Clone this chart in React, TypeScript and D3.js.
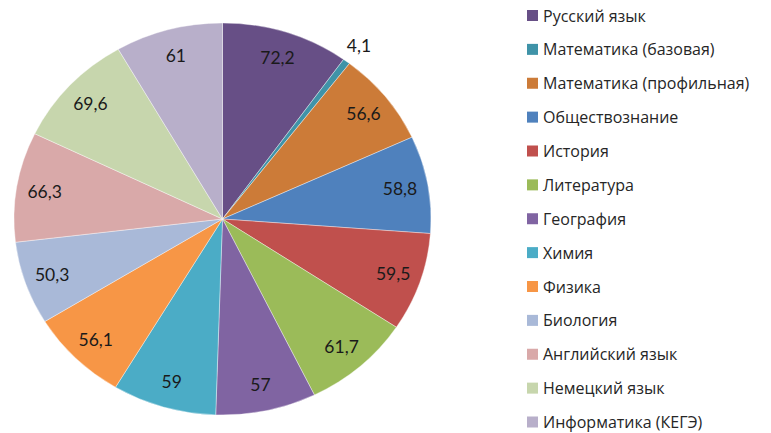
import { useEffect, useRef } from 'react';
import * as d3 from 'd3';

const subjects = [
  'Русский язык',
  'Математика (базовая)',
  'Математика (профильная)',
  'Обществознание',
  'История',
  'Литература',
  'География',
  'Химия',
  'Физика',
  'Биология',
  'Английский язык',
  'Немецкий язык',
  'Информатика (КЕГЭ)',
];

const scores = [72.2, 4.1, 56.6, 58.8, 59.5, 61.7, 57, 59, 56.1, 50.3, 66.3, 69.6, 61];

const colors = [
  '#674F86', '#3F93A8', '#CC7B38', '#4F81BD', '#C0504D', '#9BBB59', '#8064A2',
  '#4BACC6', '#F79646', '#A9B9D8', '#D9A9A9', '#C7D6AD', '#B8AFCA',
];

type Slice = { name: string; value: number; color: string };

export default function App() {
  const svgRef = useRef<SVGSVGElement | null>(null);

  useEffect(() => {
    if (!svgRef.current) return;
    const svg = d3.select(svgRef.current);
    svg.selectAll('*').remove();

    const W = 771;
    const H = 433;
    const cx = 222.5;
    const cy = 219;
    const rx = 208.5;
    const ry = 196;
    const k = ry / rx;

    const data: Slice[] = subjects.map((name, i) => ({ name, value: scores[i], color: colors[i] }));

    const pie = d3.pie<Slice>().value((d) => d.value).sort(null);
    const arcs = pie(data);
    const arc = d3.arc<d3.PieArcDatum<Slice>>().innerRadius(0).outerRadius(rx);

    svg.attr('width', W).attr('height', H).style('display', 'block').style('background', '#fff');

    // Pie (slightly squashed vertically, like the original)
    const g = svg.append('g').attr('transform', `translate(${cx},${cy}) scale(1,${k})`);
    g.selectAll('path')
      .data(arcs)
      .enter()
      .append('path')
      .attr('d', arc)
      .attr('fill', (d) => d.data.color)
      .attr('stroke', '#fff')
      .attr('stroke-width', 0.4);

    // Data labels
    const fmt = (v: number) => String(v).replace('.', ',');
    const labelR = (d: d3.PieArcDatum<Slice>) => (d.data.value < 10 ? rx * 1.1 : rx * 0.865);
    svg.append('g')
      .selectAll('text')
      .data(arcs)
      .enter()
      .append('text')
      .attr('x', (d) => cx + labelR(d) * Math.sin((d.startAngle + d.endAngle) / 2))
      .attr('y', (d) => cy - labelR(d) * Math.cos((d.startAngle + d.endAngle) / 2) * k)
      .attr('text-anchor', 'middle')
      .attr('dominant-baseline', 'central')
      .style('font-family', 'Lato, sans-serif')
      .style('font-size', '17.5px')
      .style('fill', '#1a1a1a')
      .text((d) => fmt(d.data.value));

    // Legend
    const legendY = d3.scalePoint<string>().domain(subjects).range([15.5, 422]);
    const items = svg.append('g').selectAll('g').data(data).enter().append('g')
      .attr('transform', (d) => `translate(527,${legendY(d.name)})`);
    items.append('rect')
      .attr('x', 0).attr('y', -5.5)
      .attr('width', 11).attr('height', 11)
      .attr('fill', (d) => d.color);
    items.append('text')
      .attr('x', 16).attr('y', 0)
      .attr('dominant-baseline', 'central')
      .style('font-family', '"Open Sans", sans-serif')
      .style('font-size', '16px')
      .style('fill', '#262626')
      .text((d) => d.name);
  }, []);

  return (
    <div style={{ position: 'fixed', top: 0, left: 0, width: 771, height: 433, overflow: 'hidden' }}>
      <svg ref={svgRef} />
    </div>
  );
}
